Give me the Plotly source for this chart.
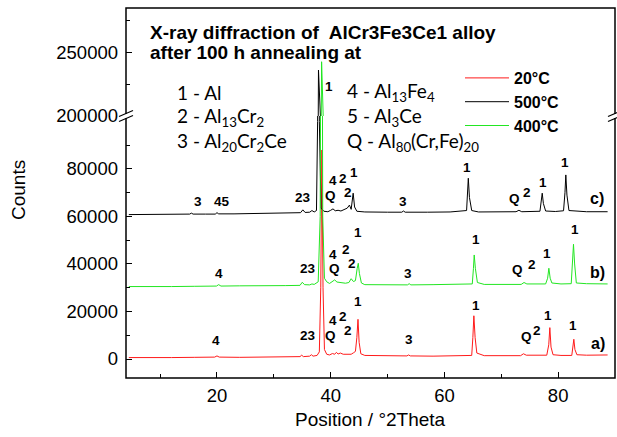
import plotly.graph_objects as go

# ---------------- data ----------------
# 2theta positions and counts of the three XRD patterns (already offset as plotted)
two_theta_20C = [4.5, 8, 12, 16, 19.6, 20.0, 20.4, 24, 28, 32, 34.6, 34.9, 35.2, 36.3, 36.6, 36.9,
                 37.6, 38.0, 38.25, 38.45, 38.65, 38.9, 39.3, 39.8, 40.3, 40.7, 41.0, 41.3, 41.7,
                 42.2, 42.7, 43.2, 43.6, 44.0, 44.35, 44.6, 44.8, 45.0, 45.3, 46, 50, 53.4, 53.7,
                 54.0, 58, 62, 64.8, 65.0, 65.18, 65.4, 65.7, 67, 70, 73.4, 73.9, 74.4, 78.0,
                 78.35, 78.54, 78.75, 79.1, 80.5, 82.4, 82.6, 82.76, 82.95, 83.3, 85, 88.7]
counts_20C = [600, 500, 600, 700, 800, 1300, 800, 700, 800, 900, 1000, 1600, 1000, 1200, 1800, 1200,
              1500, 3000, 30000, 88000, 30000, 4000, 2000, 1700, 2300, 2000, 2800, 2100, 2500,
              2000, 1900, 1800, 2000, 2600, 3200, 9000, 16700, 7000, 2200, 1500, 1300, 1300, 1700,
              1300, 1200, 1200, 1500, 9000, 18200, 9000, 2500, 1400, 1300, 1400, 2200, 1600, 1600,
              6000, 13200, 5000, 1800, 1500, 1500, 4500, 8300, 4000, 1800, 1600, 1700]

two_theta_400C = [4.5, 8, 12, 16, 19.9, 20.3, 20.7, 24, 28, 32, 34.6, 35.0, 35.4, 36.3, 36.7, 37.1,
                  37.8, 38.15, 38.4, 38.6, 38.9, 39.3, 39.8, 40.3, 40.7, 41.1, 41.5, 42.0, 42.6,
                  43.2, 43.6, 44.0, 44.35, 44.65, 44.85, 45.05, 45.4, 46, 50, 53.5, 53.8, 54.1, 58,
                  62, 64.9, 65.1, 65.24, 65.45, 65.8, 67, 70, 73.5, 74.0, 74.5, 77.8, 78.15, 78.37,
                  78.6, 78.9, 80.5, 82.3, 82.55, 82.7, 82.9, 83.2, 85, 88.7]
counts_400C = [30500, 30400, 30500, 30600, 30700, 31300, 30700, 30800, 30700, 30900, 31000, 32300,
               31300, 31200, 31600, 31400, 32500, 60000, 242400, 60000, 34000, 32500, 31800, 32600,
               33300, 32400, 32200, 32000, 31900, 32200, 33800, 32600, 33000, 38000, 40300, 36000,
               32000, 31300, 31200, 31200, 31700, 31200, 31300, 31300, 31600, 38000, 43800, 38000,
               32200, 31400, 31300, 31400, 32200, 31600, 31600, 34000, 38200, 34000, 32000, 31600,
               31700, 40000, 48300, 40000, 32000, 31700, 31600]

two_theta_500C = [4.5, 8, 12, 15.2, 15.5, 15.8, 18, 19.7, 20.0, 20.3, 23, 27, 30, 33, 34.7, 35.1,
                  35.5, 36.3, 36.7, 37.1, 37.5, 37.7, 37.85, 38.0, 38.3, 38.8, 39.5, 40.0, 40.4,
                  40.8, 41.3, 41.8, 42.3, 42.9, 43.3, 43.6, 43.95, 44.2, 44.6, 46, 50, 52.5, 52.8,
                  53.1, 57, 61, 63.9, 64.05, 64.2, 64.4, 64.8, 66, 70, 72.6, 73.1, 73.6, 76.8,
                  77.05, 77.2, 77.4, 77.8, 79.5, 80.95, 81.2, 81.35, 81.55, 81.9, 85, 88.7]
counts_500C = [60800, 60800, 60900, 61000, 61400, 61000, 61000, 61000, 61600, 61100, 61100, 61200,
               61200, 61300, 61600, 62800, 61700, 61800, 62500, 61900, 62500, 100000, 235900,
               100000, 63500, 62200, 62000, 62600, 63200, 62400, 62600, 62300, 62800, 63500, 64800,
               63000, 69800, 64000, 62200, 61900, 61800, 61800, 62300, 61800, 61800, 61900, 62500,
               68000, 76100, 68000, 62500, 61900, 61900, 62000, 62600, 62000, 62200, 66000, 69800,
               65500, 62300, 62100, 62400, 70000, 77500, 69000, 62500, 62000, 62000]

series_names = ["20°C", "500°C", "400°C"]

# peak labels: text, 2theta, counts
peak_label_text = ["3", "45", "23", "Q", "4", "2", "1", "2", "3", "1", "Q", "2", "1", "1", "c)",
                   "4", "23", "Q", "4", "2", "1", "2", "3", "1", "Q", "2", "1", "1", "b)",
                   "4", "23", "Q", "4", "2", "2", "1", "3", "1", "Q", "2", "1", "1", "a)"]
peak_label_x = [16.7, 20.9, 35.1, 39.95, 40.4, 42.1, 44.1, 43.0, 52.7, 63.9, 72.4, 74.45, 77.3, 81.2, 86.8,
                20.35, 36.0, 40.6, 40.4, 42.7, 44.8, 43.7, 53.6, 65.5, 72.9, 75.4, 78.0, 82.9, 87.0,
                19.8, 36.0, 39.9, 40.4, 42.15, 43.0, 44.8, 53.75, 65.5, 74.5, 76.3, 78.2, 82.6, 87.0]
peak_label_y = [66100, 66100, 68200, 69000, 75000, 76200, 78700, 69900, 66100, 80800, 67400, 69900, 74500, 82900, 67400,
                35800, 38300, 38300, 44200, 46300, 53100, 40400, 35800, 50500, 37500, 39600, 44600, 54700, 36600,
                7600, 10100, 9700, 16400, 18100, 12200, 24000, 8000, 22700, 9300, 12200, 18500, 13900, 6700]

phase_key_left = ["1 - Al", "2 - Al<sub>13</sub>Cr<sub>2</sub>", "3 - Al<sub>20</sub>Cr<sub>2</sub>Ce"]
phase_key_right = ["4 - Al<sub>13</sub>Fe<sub>4</sub>", "5 - Al<sub>3</sub>Ce", "Q - Al<sub>80</sub>(Cr,Fe)<sub>20</sub>"]

lower_ticks = [0, 20000, 40000, 60000, 80000]
lower_minor = [10000, 30000, 50000, 70000, 90000]
upper_ticks = [200000, 250000]
upper_minor = [225000, 275000]
x_ticks = [20, 40, 60, 80]
x_minor = [10, 30, 50, 70, 90]

# ---------------- figure ----------------
W, H = 617, 437
L, R, T, B = 126, 2, 8, 59
PW, PH = W - L - R, H - T - B
BREAK_PX = 116
bf = (H - B - BREAK_PX) / PH


def px(xp):
    return (xp - L) / PW


def py(yp):
    return (H - B - yp) / PH


colors = ["#ff1a1a", "#000000", "#22e622"]
xs = [two_theta_20C, two_theta_500C, two_theta_400C]
ys = [counts_20C, counts_500C, counts_400C]
for a, b in zip(xs, ys):
    assert len(a) == len(b)

fig = go.Figure()
for name, c, xv, yv in zip(series_names, colors, xs, ys):
    fig.add_trace(go.Scatter(x=xv, y=yv, mode="lines", name=name, legendgroup=name,
                             line=dict(color=c, width=1), xaxis="x", yaxis="y"))
for name, c, xv, yv in zip(series_names, colors, xs, ys):
    fig.add_trace(go.Scatter(x=xv, y=yv, mode="lines", name=name, legendgroup=name, showlegend=False,
                             line=dict(color=c, width=1), xaxis="x", yaxis="y2"))

arial = "Liberation Sans, Arial, sans-serif"
calib = "Lato, Noto Sans, sans-serif"
tickfont = dict(family=arial, size=18.5, color="black")

common = dict(showgrid=False, zeroline=False, showline=False, automargin=False,
              ticks="inside", ticklen=6, tickwidth=1.2, tickcolor="black", tickfont=tickfont)

fig.update_layout(
    width=W, height=H, margin=dict(l=L, r=R, t=T, b=B, autoexpand=False),
    paper_bgcolor="white", plot_bgcolor="white",
    showlegend=True,
    legend=dict(x=px(460), y=py(61), xanchor="left", yanchor="top", bgcolor="rgba(0,0,0,0)",
                font=dict(family=arial, size=16, color="black", weight="bold"),
                tracegroupgap=0, itemwidth=44),
    xaxis=dict(range=[4, 90], domain=[0, 1], anchor="y",
               tickmode="array", tickvals=x_ticks, ticktext=[str(v) for v in x_ticks],
               minor=dict(tickmode="array", tickvals=x_minor, ticks="inside", ticklen=4, tickwidth=1,
                          tickcolor="black"),
               ticklabelstandoff=4, **common),
    yaxis=dict(domain=[0, bf], range=[-8000, 102300], anchor="x",
               tickmode="array", tickvals=lower_ticks, ticktext=[str(v) for v in lower_ticks],
               minor=dict(tickmode="array", tickvals=lower_minor, ticks="inside", ticklen=4,
                          tickwidth=1, tickcolor="black"),
               ticklabelstandoff=7, **common),
    yaxis2=dict(domain=[bf, 1], range=[200000, 284400], anchor="x",
                tickmode="array", tickvals=upper_ticks, ticktext=[str(v) for v in upper_ticks],
                minor=dict(tickmode="array", tickvals=upper_minor, ticks="inside", ticklen=4,
                           tickwidth=1, tickcolor="black"),
                ticklabelstandoff=7, **common),
)

# frame
fig.add_shape(type="rect", xref="paper", yref="paper", x0=0, x1=1, y0=0, y1=1,
              line=dict(color="black", width=1.5), layer="above")
# axis breaks
for xa in (0, 1):
    fig.add_shape(type="rect", xref="paper", yref="paper", xsizemode="pixel", ysizemode="pixel",
                  xanchor=xa, yanchor=bf, x0=-3, x1=3, y0=-2, y1=2,
                  fillcolor="white", line=dict(width=0), layer="above")
    for dy in (-2.5, 2.5):
        fig.add_shape(type="line", xref="paper", yref="paper", xsizemode="pixel", ysizemode="pixel",
                      xanchor=xa, yanchor=bf, x0=-7, x1=7, y0=dy - 3, y1=dy + 3,
                      line=dict(color="black", width=1.2), layer="above")

# title text
fig.add_annotation(text="<b>X-ray diffraction of\u00a0 AlCr3Fe3Ce1 alloy</b>", xref="paper", yref="paper",
                   x=px(148), y=py(32), xanchor="left", yanchor="middle", showarrow=False,
                   font=dict(family=arial, size=19, color="black"))
fig.add_annotation(text="<b>after 100 h annealing at</b>", xref="paper", yref="paper",
                   x=px(148), y=py(53), xanchor="left", yanchor="middle", showarrow=False,
                   font=dict(family=arial, size=19, color="black"))

# phase key
for i, (t1, t2) in enumerate(zip(phase_key_left, phase_key_right)):
    yy = [92, 117, 142][i]
    fig.add_annotation(text=t1, xref="paper", yref="paper", x=px(175), y=py(yy), xanchor="left",
                       yanchor="middle", showarrow=False, font=dict(family=calib, size=19, color="black"))
    fig.add_annotation(text=t2, xref="paper", yref="paper", x=px(345), y=py(yy), xanchor="left",
                       yanchor="middle", showarrow=False, font=dict(family=calib, size=19, color="black"))

# peak labels
for t, xv, yv in zip(peak_label_text, peak_label_x, peak_label_y):
    big = t.endswith(")")
    fig.add_annotation(text=f"<b>{t}</b>", x=xv, y=yv, xref="x", yref="y", showarrow=False,
                       font=dict(family=arial, size=16 if big else 13.5, color="black"))
fig.add_annotation(text="<b>1</b>", x=39.7, y=223400, xref="x", yref="y2", showarrow=False,
                   font=dict(family=arial, size=13.5, color="black"))

# axis titles
fig.add_annotation(text="Counts", xref="paper", yref="paper", x=px(18), y=py(190), textangle=-90,
                   xanchor="center", yanchor="middle", showarrow=False,
                   font=dict(family=arial, size=19, color="black"))
fig.add_annotation(text="Position / °2Theta", xref="paper", yref="paper", x=px(370), y=py(419),
                   xanchor="center", yanchor="middle", showarrow=False,
                   font=dict(family=arial, size=19, color="black"))

fig.write_html("out.html", config={"displayModeBar": False},
               post_script="document.body.style.margin='0px';")
